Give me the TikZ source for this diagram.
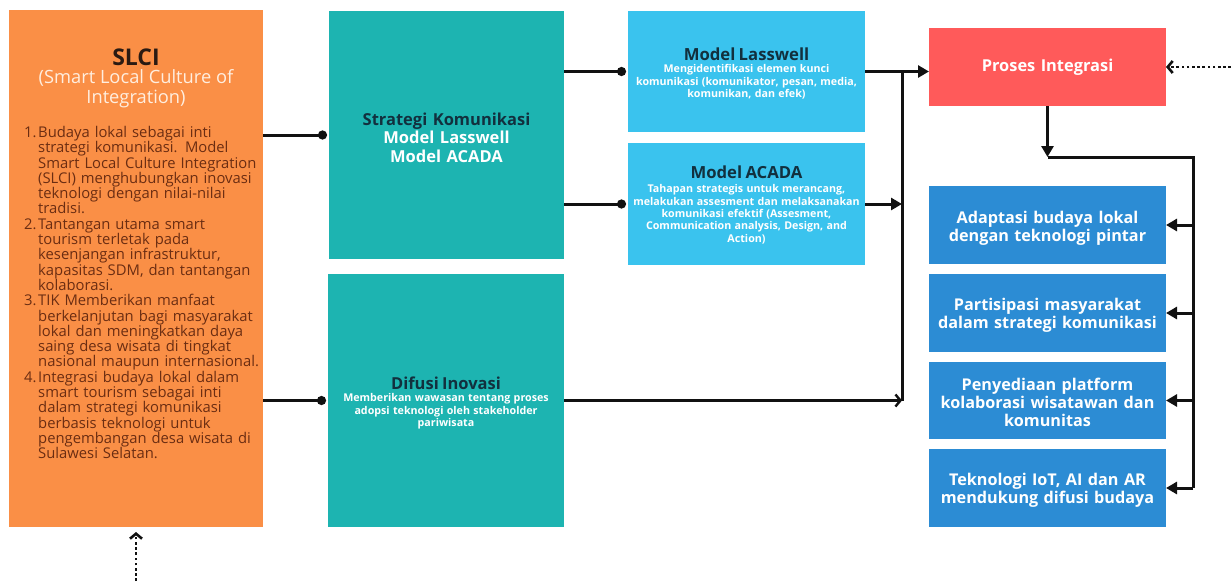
\documentclass[tikz,border=0pt]{standalone}
\usepackage{fontspec}
\setmainfont{Open Sans}
\usetikzlibrary{arrows.meta,calc}
\definecolor{slciC}{HTML}{FA8F46}
\definecolor{tealC}{HTML}{1DB4B1}
\definecolor{ltblueC}{HTML}{3AC3EE}
\definecolor{redC}{HTML}{FF5A5A}
\definecolor{blueC}{HTML}{2C8CD4}
\definecolor{darkT}{HTML}{12303E}
\definecolor{slciT}{HTML}{2A1A12}
\definecolor{listC}{HTML}{6B2D12}
\definecolor{subC}{HTML}{FFEEDF}
\definecolor{lineC}{HTML}{111111}
\newcommand\fsz[2]{\fontsize{#1}{#2}\selectfont}
\newcommand\lift[1]{\rule{0pt}{#1}}
\newcommand\ttl[3]{{\fsz{#1}{#1}\bfseries\color{darkT}\lift{#2}#3\par}}
\newcommand\dsc[1]{{\fsz{10.7}{12.4}\bfseries\color{white}#1\par}}
\newcommand\itm[1]{\hangindent=14pt\hangafter=1\noindent\makebox[14pt][l]{#1}}
\tikzset{
  boxbase/.style={inner sep=0pt, outer sep=0pt, align=center, text width=#1},
  slcibox/.style={fill=slciC, minimum width=254pt, minimum height=517pt, inner sep=0pt, outer sep=0pt},
  tealbox/.style={fill=tealC, boxbase=234pt},
  lbbox/.style={fill=ltblueC, boxbase=236pt},
  redbox/.style={fill=redC, boxbase=237pt, text=white, font=\fsz{16.4}{19}\bfseries},
  bluebox/.style={fill=blueC, boxbase=237pt, minimum width=237pt, text=white, font=\fsz{16.2}{18}\bfseries},
  conn/.style={draw=lineC, line width=3pt},
  dotend/.style={-{Circle[length=9pt]}},
  triend/.style={-{Triangle[length=11pt,width=12pt]}},
  barbend/.style={-{Straight Barb[length=5pt,width=12pt,line width=2.4pt]}},
  dotline/.style={draw=lineC, line width=2.8pt, dash pattern=on 2.6pt off 2.6pt, -{Straight Barb[length=5pt,width=12pt,line width=2.6pt]}},
}
\begin{document}
\begin{tikzpicture}[x=1pt,y=-1pt]
\path[use as bounding box, fill=white] (0,0) rectangle (1231,581);
% boxes
\node[slcibox] (slci) at (136,268.5) {};
\node[tealbox, text=white, minimum width=235pt, minimum height=248pt, font=\fsz{16.5}{18.5}\bfseries] (strat) at (446.5,135)
  {\lift{17.5pt}\textcolor{darkT}{Strategi Komunikasi}\\Model Lasswell\\Model ACADA};
\node[tealbox, minimum width=236pt, minimum height=253pt] (difusi) at (446,400.5)
  {\ttl{16.5}{17.5pt}{Difusi Inovasi}\dsc{Memberikan wawasan tentang proses\\adopsi teknologi oleh stakeholder\\pariwisata}};
\node[lbbox, minimum width=237pt, minimum height=121pt] (lass) at (746.5,71.5)
  {\ttl{16.7}{16.7pt}{Model Lasswell}\dsc{Mengidentifikasi elemen kunci\\komunikasi (komunikator, pesan, media,\\komunikan, dan efek)}};
\node[lbbox, minimum width=237pt, minimum height=122pt] (acada) at (746.5,204)
  {\ttl{16.7}{14.7pt}{Model ACADA}\vspace{1.5pt}\dsc{Tahapan strategis untuk merancang,\\melakukan assesment dan melaksanakan\\komunikasi efektif (Assesment,\\Communication analysis, Design, and\\Action)}};
\node[redbox, minimum width=237pt, minimum height=78pt] (proses) at (1047.5,67) {Proses Integrasi};
\node[bluebox, minimum height=78pt] (b1) at (1047.5,225) {\lift{18.3pt}Adaptasi budaya lokal\\dengan teknologi pintar};
\node[bluebox, minimum height=78pt] (b2) at (1047.5,313) {\lift{17.3pt}Partisipasi masyarakat\\dalam strategi komunikasi};
\node[bluebox, minimum height=77pt] (b3) at (1047.5,400.5) {\lift{16.3pt}Penyediaan platform\\kolaborasi wisatawan dan\\komunitas};
\node[bluebox, minimum height=78pt] (b4) at (1047.5,488) {\lift{16.8pt}Teknologi IoT, AI dan AR\\mendukung difusi budaya};
% SLCI texts
\node[inner sep=0pt, font=\fsz{23}{24}\bfseries, text=slciT] (slcititle) at (136,57) {SLCI};
\node[inner sep=0pt, align=center, font=\fsz{18.3}{20}, text=subC] (slcisub) at (136,89) {(Smart Local Culture of\\Integration)};
\node[inner sep=0pt, anchor=north west, text width=240pt, align=left, font=\fsz{14.8}{15.3}, text=listC] (slcilist) at (24,126)
  {\itm{1.}Budaya lokal sebagai inti\newline strategi komunikasi. Model\newline Smart Local Culture Integration\newline (SLCI) menghubungkan inovasi\newline teknologi dengan nilai-nilai\newline tradisi.\par
   \itm{2.}Tantangan utama smart\newline tourism terletak pada\newline kesenjangan infrastruktur,\newline kapasitas SDM, dan tantangan\newline kolaborasi.\par
   \itm{3.}TIK Memberikan manfaat\newline berkelanjutan bagi masyarakat\newline lokal dan meningkatkan daya\newline saing desa wisata di tingkat\newline nasional maupun internasional.\par
   \itm{4.}Integrasi budaya lokal dalam\newline smart tourism sebagai inti\newline dalam strategi komunikasi\newline berbasis teknologi untuk\newline pengembangan desa wisata di\newline Sulawesi Selatan.\par};
% coordinates
\coordinate (jt) at (902,71.5);
\coordinate (jb) at (902,401);
\coordinate (pd) at (1047.5,157);
\coordinate (rt) at (1193,157);
\coordinate (rb) at (1193,488);
\coordinate (rin) at (1231,67);
\coordinate (bin) at (136,581);
% connectors
\draw[conn, dotend, shorten >=2pt] (slci.east |- strat.west) -- (strat.west);
\draw[conn, dotend, shorten >=2pt] (slci.east |- difusi.west) -- (difusi.west);
\draw[conn, dotend, shorten >=2pt] (strat.east |- lass.west) -- (lass.west);
\draw[conn, dotend, shorten >=2pt] (strat.east |- acada.west) -- (acada.west);
\draw[conn, triend] (lass.east) -- (lass.east -| proses.west);
\draw[conn] (jt) -- (jb);
\draw[conn, triend] (acada.east) -- (acada.east -| jt);
\draw[draw=lineC, line width=2.4pt, barbend] (difusi.east) -- (difusi.east -| jb);
\draw[conn, triend] (proses.south) -- (pd);
\draw[conn, line join=miter] (pd) -- (rt) -- (rb);
\draw[conn, triend] (b1.east -| rt) -- (b1.east);
\draw[conn, triend] (b2.east -| rt) -- (b2.east);
\draw[conn, triend] (b3.east -| rt) -- (b3.east);
\draw[conn, triend] (b4.east -| rt) -- (b4.east);
\draw[dotline] (rin) -- (proses.east);
\draw[dotline, shorten >=5pt] (bin) -- (slci.south);
\end{tikzpicture}
\end{document}
